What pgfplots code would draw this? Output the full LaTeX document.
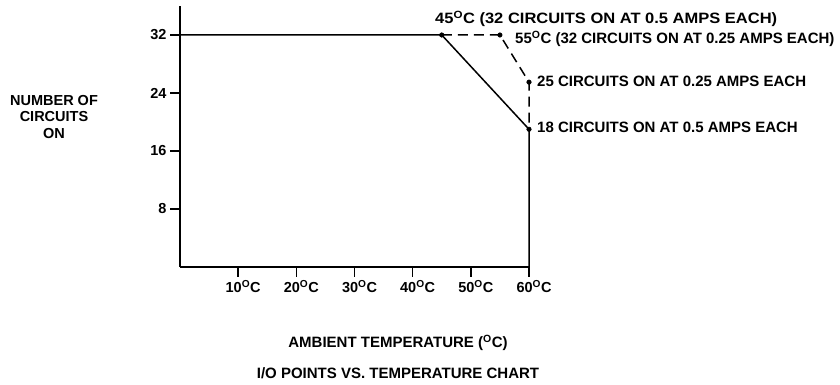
\documentclass[border=0pt]{standalone}
\usepackage{fontspec}
\setmainfont{Liberation Sans}
\usepackage{pgfplots}
\pgfplotsset{compat=1.18}
\newcommand{\dg}{\textsuperscript{O}}
\newcommand{\f}{\bfseries\fontsize{14.5}{15.5}\selectfont}
\newcommand{\g}{\bfseries\fontsize{15}{16}\selectfont}
\begin{document}
\begin{tikzpicture}[x=1pt,y=1pt]
\path[use as bounding box] (0,0) rectangle (840,385);
\begin{axis}[
  at={(180pt,118pt)}, anchor=south west,
  scale only axis, width=349pt, height=261pt,
  xmin=0, xmax=60, ymin=0, ymax=36,
  axis x line=bottom, axis y line=left,
  axis line style={-, line width=1.7pt},
  xtick={10,20,30,40,50,60},
  xticklabels={10\dg C,20\dg C,30\dg C,40\dg C,50\dg C,60\dg C},
  ytick={8,16,24,32}, yticklabels={8,16,24,32},
  tick align=outside, major tick length=10pt,
  tick style={line width=1.5pt, black},
  ticklabel style={font=\f},
  xticklabel style={xshift=5pt},
  clip=false,
]
\addplot[black, line width=1.5pt] coordinates {(0,32) (45,32) (60,19) (60,0)};
\addplot[black, line width=1.5pt, dash pattern=on 10pt off 6pt] coordinates {(45,32) (55,32) (60,25.5) (60,19)};
\addplot[only marks, mark=*, mark size=2.3pt, black] coordinates {(45,32) (55,32) (60,25.5) (60,19)};
\end{axis}
\node[anchor=west, inner sep=0, font=\g] at (435,366) {\scalebox{1.1}[1]{45\dg C (32 CIRCUITS ON AT 0.5 AMPS EACH)}};
\node[anchor=west, inner sep=0, font=\g] at (515,346) {55\dg C (32 CIRCUITS ON AT 0.25 AMPS EACH)};
\node[anchor=west, inner sep=0, font=\g] at (537,304) {25 CIRCUITS ON AT 0.25 AMPS EACH};
\node[anchor=west, inner sep=0, font=\g] at (537,258) {18 CIRCUITS ON AT 0.5 AMPS EACH};
\node[align=center, inner sep=0, font=\bfseries\fontsize{14.5}{16.5}\selectfont] at (54,268) {NUMBER OF\\CIRCUITS\\ON};
\node[inner sep=0, font=\g] at (398,42) {AMBIENT TEMPERATURE (\dg C)};
\node[inner sep=0, font=\g] at (398,12) {I/O POINTS VS. TEMPERATURE CHART};
\end{tikzpicture}
\end{document}
